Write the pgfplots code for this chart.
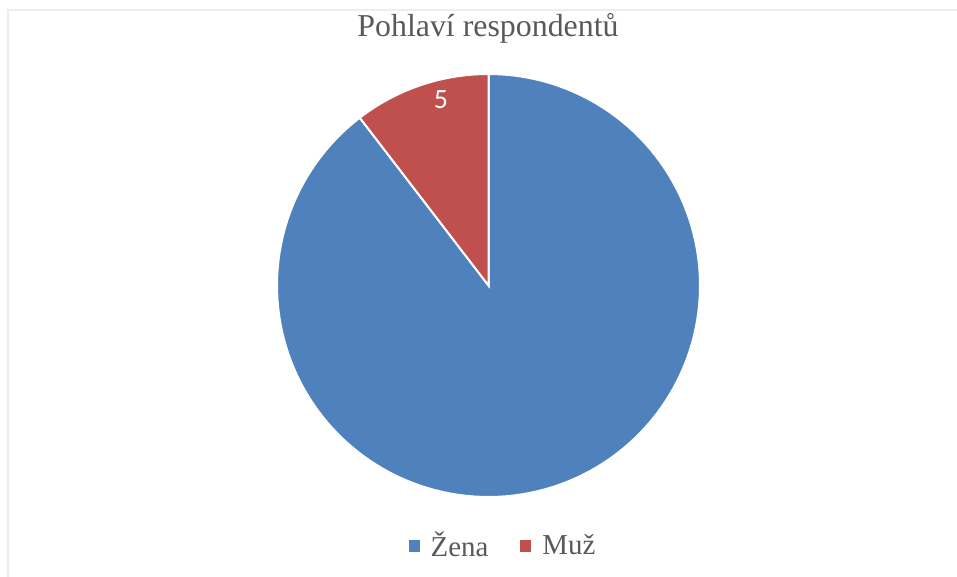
\documentclass[border=0pt]{standalone}
\usepackage{pgfplots}
\pgfplotsset{compat=1.18}
\usepackage{pgfplotstable}
\usepackage{fontspec}
\setmainfont{Liberation Serif}
\newfontfamily\carlito{Carlito}
\definecolor{zena}{HTML}{4F81BD}
\definecolor{muz}{HTML}{C0504D}
\definecolor{txt}{HTML}{595959}

% respondents by gender (row 0 = Zena, row 1 = Muz)
\pgfplotstableread{
pohlavi pocet
Zena 43
Muz 5
}\datatable

\begin{document}
\begin{tikzpicture}
\pgfplotstablegetelem{0}{pocet}\of\datatable \let\zena\pgfplotsretval
\pgfplotstablegetelem{1}{pocet}\of\datatable \let\muz\pgfplotsretval
\pgfmathsetmacro\total{\zena+\muz}
\pgfmathsetmacro\split{90+360*\muz/\total}
\def\cx{488.5}\def\cy{291.5}\def\r{211.5}
\begin{axis}[
    scale only axis,
    width=478.5bp, height=288.5bp,
    xmin=0, xmax=957, ymin=0, ymax=577,
    hide axis,
    clip=false,
    legend columns=2,
    legend style={at={(axis cs:504,31)}, anchor=center, draw=none, fill=none,
        font=\fontsize{14.5}{17}\selectfont, text=txt,
        /tikz/every odd column/.append style={column sep=3.5bp},
        /tikz/every even column/.append style={column sep=14bp}},
    legend image code/.code={\fill[#1,draw=none] (0bp,-2.75bp) rectangle (5.5bp,2.75bp);},
]
\addplot[fill=zena, draw=white, line width=1bp, domain=\split:450, samples=150]
    ({\cx+\r*cos(x)},{\cy+\r*sin(x)}) -- (axis cs:\cx,\cy) -- cycle;
\addlegendentry{Žena}
\addplot[fill=muz, draw=white, line width=1bp, domain=90:\split, samples=40]
    ({\cx+\r*cos(x)},{\cy+\r*sin(x)}) -- (axis cs:\cx,\cy) -- cycle;
\addlegendentry{Muž}

\node[text=white, font=\carlito\fontsize{14}{16}\selectfont] at (axis cs:441,477) {\muz};
\node[text=txt, font=\fontsize{16}{19}\selectfont] at (axis cs:488,549) {Pohlaví respondentů};
\draw[color=black!7, line width=1bp] (axis cs:8,0) -- (axis cs:8,566.5) -- (axis cs:957,566.5);
\end{axis}
\pgfresetboundingbox
\useasboundingbox (0,0) rectangle (478.5bp,288.5bp);
\end{tikzpicture}
\end{document}
